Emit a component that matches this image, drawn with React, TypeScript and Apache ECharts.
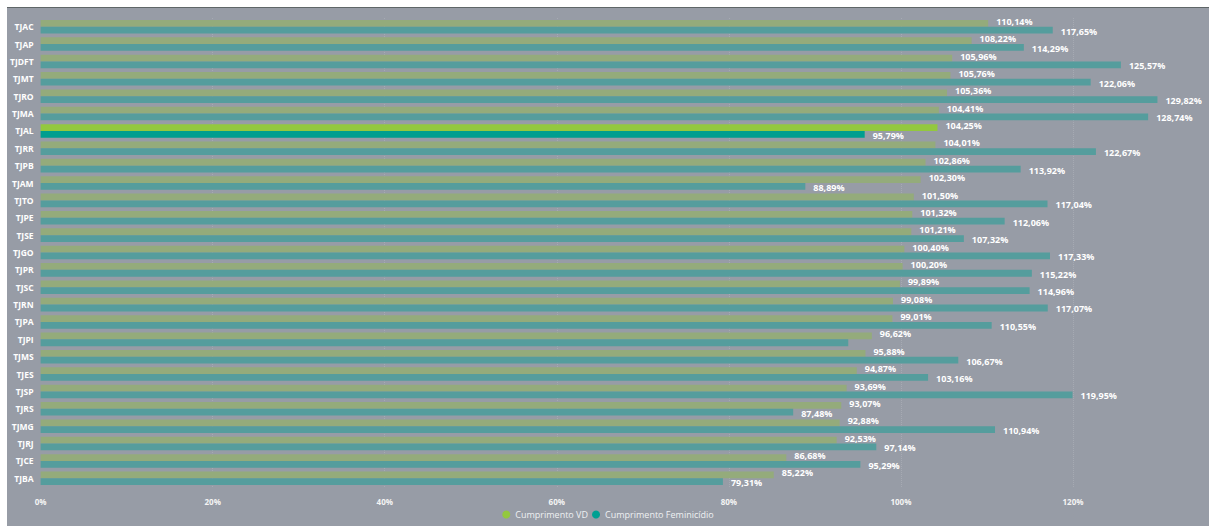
import React, { useEffect, useRef } from "react";
import * as echarts from "echarts";

const categories = [
  "TJAC", "TJAP", "TJDFT", "TJMT", "TJRO", "TJMA", "TJAL", "TJRR", "TJPB", "TJAM",
  "TJTO", "TJPE", "TJSE", "TJGO", "TJPR", "TJSC", "TJRN", "TJPA", "TJPI", "TJMS",
  "TJES", "TJSP", "TJRS", "TJMG", "TJRJ", "TJCE", "TJBA",
];

const cumprimentoVD = [
  110.14, 108.22, 105.96, 105.76, 105.36, 104.41, 104.25, 104.01, 102.86, 102.3,
  101.5, 101.32, 101.21, 100.4, 100.2, 99.89, 99.08, 99.01, 96.62, 95.88,
  94.87, 93.69, 93.07, 92.88, 92.53, 86.68, 85.22,
];

const cumprimentoFeminicidio = [
  117.65, 114.29, 125.57, 122.06, 129.82, 128.74, 95.79, 122.67, 113.92, 88.89,
  117.04, 112.06, 107.32, 117.33, 115.22, 114.96, 117.07, 110.55, 93.88, 106.67,
  103.16, 119.95, 87.48, 110.94, 97.14, 95.29, 79.31,
];

const xTicks = { min: 0, max: 135, interval: 20 };
const highlighted = "TJAL";
const hiddenLabels = ["TJPI"];

const fmt = (v: number) => v.toFixed(2).replace(".", ",") + "%";

export default function App() {
  const ref = useRef<HTMLDivElement>(null);
  useEffect(() => {
    if (!ref.current) return;
    const chart = echarts.init(ref.current, null, { renderer: "svg" });
    const font = "'Open Sans', 'Noto Sans', sans-serif";
    const labelStyle = {
      show: true,
      position: "right" as const,
      distance: 8,
      color: "#ffffff",
      fontSize: 9,
      fontWeight: "bold" as const,
      fontFamily: font,
      formatter: (p: any) => fmt(p.value),
    };
    const vdData = cumprimentoVD.map((v, i) => ({
      value: v,
      itemStyle: { color: categories[i] === highlighted ? "#93c83e" : "#94ab7b" },
    }));
    const femData = cumprimentoFeminicidio.map((v, i) => ({
      value: v,
      itemStyle: { color: categories[i] === highlighted ? "#009e8f" : "#559d9d" },
      label: hiddenLabels.includes(categories[i]) ? { show: false } : undefined,
    }));
    chart.setOption({
      animation: false,
      backgroundColor: "#979ca6",
      textStyle: { fontFamily: font },
      grid: { left: 33, right: 7, top: 10, bottom: 39, containLabel: false },
      legend: {
        bottom: 2,
        left: "center",
        icon: "circle",
        itemWidth: 8,
        itemHeight: 8,
        itemGap: 4,
        textStyle: { color: "#eef0f2", fontSize: 9, fontFamily: font },
        data: [
          { name: "Cumprimento VD", itemStyle: { color: "#93c83e" } },
          { name: "Cumprimento Feminicídio", itemStyle: { color: "#00a092" } },
        ],
      },
      xAxis: {
        type: "value",
        min: xTicks.min,
        max: xTicks.max,
        interval: xTicks.interval,
        axisLabel: {
          color: "#f4f4f4",
          fontSize: 8,
          fontWeight: "bold",
          margin: 10,
          formatter: (v: number) => (v > 120 ? "" : v + "%"),
        },
        axisLine: { show: false },
        axisTick: { show: false },
        splitLine: {
          show: true,
          showMaxLine: false,
          showMinLine: false,
          lineStyle: { color: "rgba(255,255,255,0.15)", type: "dotted", width: 1 },
        },
      },
      yAxis: {
        type: "category",
        inverse: true,
        data: categories,
        axisLabel: {
          color: "#ffffff",
          fontSize: 8.5,
          fontWeight: "bold",
          margin: 7,
        },
        axisLine: { show: false },
        axisTick: { show: false },
        splitLine: { show: false },
      },
      series: [
        {
          name: "Cumprimento VD",
          type: "bar",
          data: vdData,
          barGap: "0%",
          barCategoryGap: "22%",
          label: { ...labelStyle, offset: [0, -2] },
        },
        {
          name: "Cumprimento Feminicídio",
          type: "bar",
          data: femData,
          barGap: "0%",
          barCategoryGap: "22%",
          label: { ...labelStyle, offset: [0, 1] },
        },
      ],
    });
    return () => chart.dispose();
  }, []);
  return (
    <div
      ref={ref}
      style={{
        position: "fixed",
        left: 7,
        top: 7,
        width: 1202,
        height: 518,
        borderTop: "1px solid #5f6668",
      }}
    />
  );
}
